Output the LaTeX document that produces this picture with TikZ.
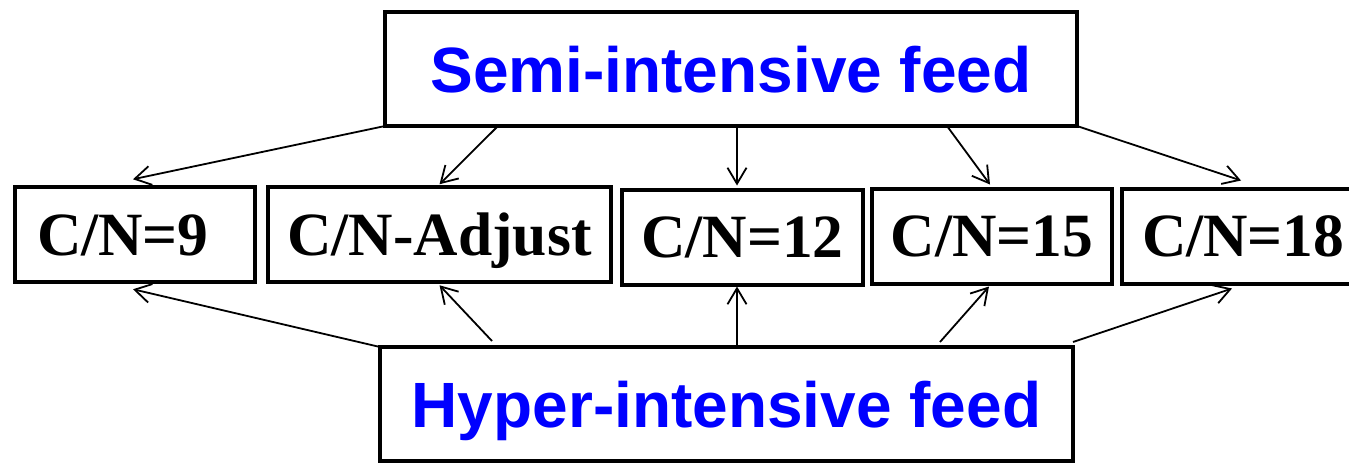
\documentclass[tikz,border=0pt]{standalone}
\usepackage{fontspec}
\usetikzlibrary{arrows.meta}
\newfontfamily\sansb{Liberation Sans}
\newfontfamily\serifb{Liberation Serif}
\tikzset{
  feedbox/.style={draw, line width=4pt, outer sep=0pt, minimum width=692pt, minimum height=114pt, inner sep=0pt,
    font=\sansb\bfseries\fontsize{64}{70}\selectfont, text=blue, text height=46pt, text depth=0pt},
  cnbox/.style={draw, line width=4pt, outer sep=0pt, minimum height=95pt, inner sep=0pt,
    font=\serifb\bfseries\fontsize{61.5}{66}\selectfont, text height=41pt, text depth=0pt},
  conn/.style={line width=1.8pt, -{Straight Barb[length=16pt,width=19pt]}},
}
\begin{document}
\begin{tikzpicture}[x=1pt,y=-1pt]
\useasboundingbox (0,0) rectangle (1349,464);
\clip (0,0) rectangle (1349,464);
\node[feedbox] (semi) at (731,69) {Semi-intensive feed};
\node[feedbox, minimum width=693pt] (hyper) at (726.5,404) {Hyper-intensive feed};
\node[cnbox, minimum width=240pt, text width=196pt, align=left] (b9) at (135,234.75) {C/N=9};
\node[cnbox, minimum width=343pt] (bA) at (439.5,234.75) {C/N-Adjust};
\node[cnbox, minimum width=241pt] (b12) at (742.5,237) {C/N=12};
\node[cnbox, minimum width=240pt] (b15) at (992,236) {C/N=15};
\node[cnbox, minimum width=244pt, text width=204pt, align=left] (b18) at (1244,236) {C/N=18};
% from semi-intensive
\draw[conn] (semi.south west) -- ([xshift=-2pt,yshift=8pt]b9.north);
\draw[conn] ([xshift=113pt]semi.south west) -- ([yshift=3pt]bA.north);
\draw[conn] ([xshift=352pt]semi.south west) -- ([xshift=-5.5pt,yshift=4pt]b12.north);
\draw[conn] ([xshift=562pt]semi.south west) -- ([xshift=-2pt,yshift=4pt]b15.north);
\draw[conn] (semi.south east) -- ([xshift=-3pt,yshift=8pt]b18.north);
% from hyper-intensive
\draw[conn] (hyper.north west) -- ([xshift=-2pt,yshift=-7pt]b9.south);
\draw[conn] ([xshift=112pt,yshift=6pt]hyper.north west) -- ([yshift=-3pt]bA.south);
\draw[conn] ([xshift=357pt]hyper.north west) -- ([xshift=-5.5pt,yshift=-2pt]b12.south);
\draw[conn] ([xshift=560pt,yshift=5pt]hyper.north west) -- ([xshift=-3pt,yshift=-3pt]b15.south);
\draw[conn] ([yshift=5pt]hyper.north east) -- ([xshift=-12pt,yshift=-5pt]b18.south);
\end{tikzpicture}
\end{document}
